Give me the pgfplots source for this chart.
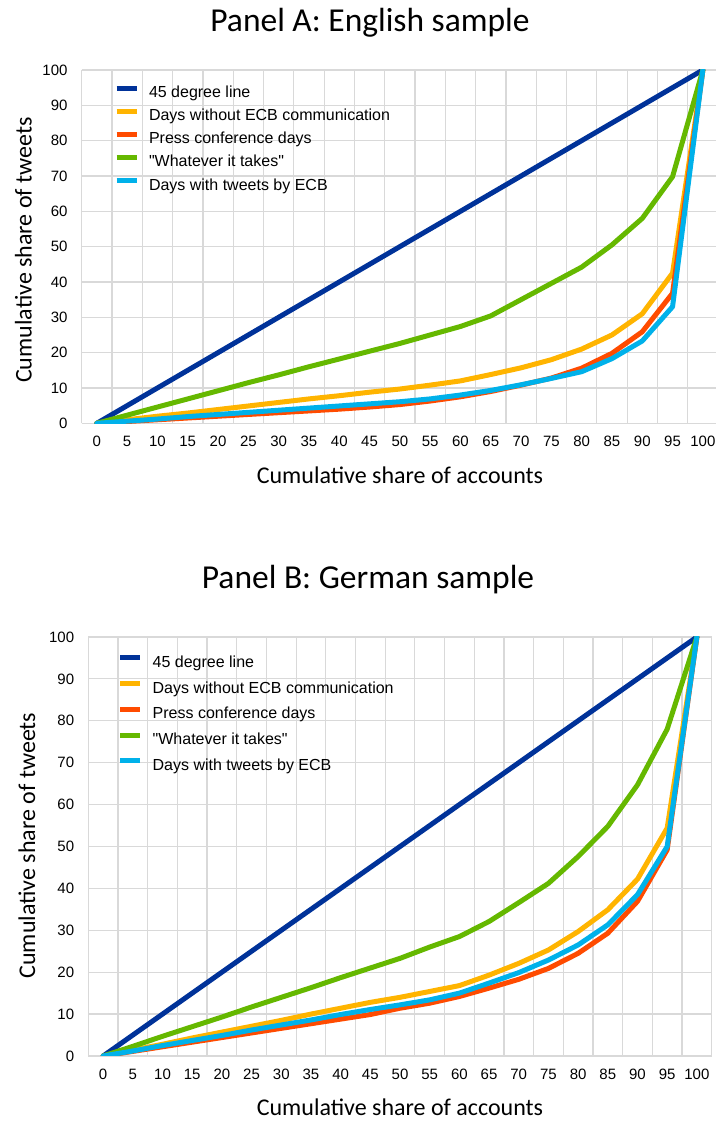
\documentclass[border=0pt]{standalone}
\usepackage{fontspec}
\setmainfont{Liberation Sans}
\newfontfamily\calibri{Carlito}
\usepackage{pgfplots}
\usepackage{pgfplotstable}
\pgfplotsset{compat=1.18}
\definecolor{ecbblue}{HTML}{003299}
\definecolor{ecborange}{HTML}{FFB400}
\definecolor{ecbred}{HTML}{FF4B00}
\definecolor{ecbgreen}{HTML}{65B800}
\definecolor{ecblight}{HTML}{00B1EA}
\definecolor{gridgray}{HTML}{D9D9D9}

\pgfplotstableread{
x diag nocomm press wit ecb
0 0 0 0 0 0
5 5 1.0 0.5 2.3 0.6
10 10 2.0 1.0 4.6 1.2
15 15 2.9 1.5 6.9 1.9
20 20 3.9 2.0 9.2 2.5
25 25 4.9 2.5 11.5 3.1
30 30 5.9 3.0 13.7 3.7
35 35 6.9 3.5 16.0 4.3
40 40 7.8 4.0 18.2 4.9
45 45 8.8 4.6 20.4 5.5
50 50 9.7 5.3 22.6 6.1
55 55 10.8 6.3 25.0 6.9
60 60 12.0 7.5 27.4 8.0
65 65 13.8 9.0 30.4 9.3
70 70 15.7 10.8 35.0 10.9
75 75 18.0 12.8 39.6 12.7
80 80 21.0 15.6 44.2 14.6
85 85 25.0 19.8 50.5 18.3
90 90 31.0 25.9 58.0 23.3
95 95 42.5 36.8 69.8 33.0
100 100 100 100 100 100
}\dataA

\pgfplotstableread{
x diag nocomm press wit ecb
0 0 0 0 0 0
5 5 1.4 1.1 2.3 1.2
10 10 2.8 2.2 4.7 2.5
15 15 4.3 3.3 7.0 3.7
20 20 5.7 4.4 9.3 4.9
25 25 7.1 5.5 11.7 6.2
30 30 8.5 6.6 14.0 7.4
35 35 10.0 7.7 16.3 8.6
40 40 11.4 8.8 18.7 9.9
45 45 12.8 9.9 21.0 11.1
50 50 14.0 11.4 23.3 12.2
55 55 15.4 12.6 26.0 13.4
60 60 16.8 14.2 28.5 15.0
65 65 19.3 16.2 32.1 17.4
70 70 22.1 18.3 36.6 19.9
75 75 25.3 20.9 41.2 22.9
80 80 29.7 24.5 47.6 26.5
85 85 34.9 29.3 54.8 31.3
90 90 42.2 36.9 64.7 38.5
95 95 54.4 49.2 78.0 50.0
100 100 100 100 100 100
}\dataB

\pgfplotsset{
 panel/.style={
  scale only axis, xmin=-2.5, xmax=102.5, ymin=0, ymax=100,
  axis line style={draw=none},
  xtick={0,5,10,15,20,25,30,35,40,45,50,55,60,65,70,75,80,85,90,95,100},
  ytick={0,10,20,30,40,50,60,70,80,90,100},
  minor xtick={-2.5,2.5,7.5,12.5,17.5,22.5,27.5,32.5,37.5,42.5,47.5,52.5,57.5,62.5,67.5,72.5,77.5,82.5,87.5,92.5,97.5,102.5},
  xmajorgrids=false, ymajorgrids=true, xminorgrids=true,
  major grid style={gridgray, line width=1.2bp},
  minor grid style={gridgray, line width=1.2bp},
  major tick length=0pt, minor tick length=0pt,
  tick style={draw=none},
  /pgf/number format/assume math mode=true,
  ticklabel style={font=\fontsize{15bp}{18bp}\selectfont},
  yticklabel style={anchor=east, inner sep=0pt, xshift=-14bp},
  xticklabel style={anchor=north, inner sep=0pt, yshift=-13bp},
  legend cell align=left,
  legend image code/.code={\draw[##1, line width=5bp, line cap=butt] (0bp,5bp) -- (20bp,5bp); \path (30bp,0bp);},
  legend style={draw=none, fill=none, inner sep=0pt, outer sep=0pt,
    font=\fontsize{16bp}{19bp}\selectfont,
    nodes={inner sep=0pt, text height=12bp, text depth=3bp}},
  every axis plot/.append style={line width=5bp, line join=round, line cap=round, mark=none},
 }
}

\begin{document}
\begin{tikzpicture}
\useasboundingbox (0bp,0bp) rectangle (716bp,1122bp);
% Panel A
\node[font=\calibri\fontsize{33.5bp}{38bp}\selectfont, anchor=base] at (370bp,1090.3bp) {Panel A: English sample};
\node[font=\calibri\fontsize{24bp}{28bp}\selectfont, rotate=90, anchor=base] at (31.5bp,872bp) {Cumulative share of tweets};
\node[font=\calibri\fontsize{24bp}{28bp}\selectfont] at (400bp,647bp) {Cumulative share of accounts};
\begin{axis}[panel, at={(81.7bp,698.7bp)}, anchor=south west, width=636.3bp, height=353.3bp,
  legend style={at={(axis cs:2.83,95.6)}, anchor=north west, row sep=8.15bp}]
\addplot[ecbblue] table[x=x,y=diag]{\dataA};
\addlegendentry{45 degree line}
\addplot[ecborange] table[x=x,y=nocomm]{\dataA};
\addlegendentry{Days without ECB communication}
\addplot[ecbred] table[x=x,y=press]{\dataA};
\addlegendentry{Press conference days}
\addplot[ecbgreen] table[x=x,y=wit]{\dataA};
\addlegendentry{\textquotedbl Whatever it takes\textquotedbl}
\addplot[ecblight] table[x=x,y=ecb]{\dataA};
\addlegendentry{Days with tweets by ECB}
\end{axis}
% Panel B
\node[font=\calibri\fontsize{33.5bp}{38bp}\selectfont, anchor=base] at (368bp,533.7bp) {Panel B: German sample};
\node[font=\calibri\fontsize{24bp}{28bp}\selectfont, rotate=90, anchor=base] at (35bp,276.4bp) {Cumulative share of tweets};
\node[font=\calibri\fontsize{24bp}{28bp}\selectfont] at (400bp,15bp) {Cumulative share of accounts};
\begin{axis}[panel, at={(88.3bp,66bp)}, anchor=south west, width=623.4bp, height=419bp,
  legend style={at={(axis cs:2.45,95.6)}, anchor=north west, row sep=10.75bp}]
\addplot[ecbblue] table[x=x,y=diag]{\dataB};
\addlegendentry{45 degree line}
\addplot[ecborange] table[x=x,y=nocomm]{\dataB};
\addlegendentry{Days without ECB communication}
\addplot[ecbred] table[x=x,y=press]{\dataB};
\addlegendentry{Press conference days}
\addplot[ecbgreen] table[x=x,y=wit]{\dataB};
\addlegendentry{\textquotedbl Whatever it takes\textquotedbl}
\addplot[ecblight] table[x=x,y=ecb]{\dataB};
\addlegendentry{Days with tweets by ECB}
\end{axis}
\end{tikzpicture}
\end{document}
